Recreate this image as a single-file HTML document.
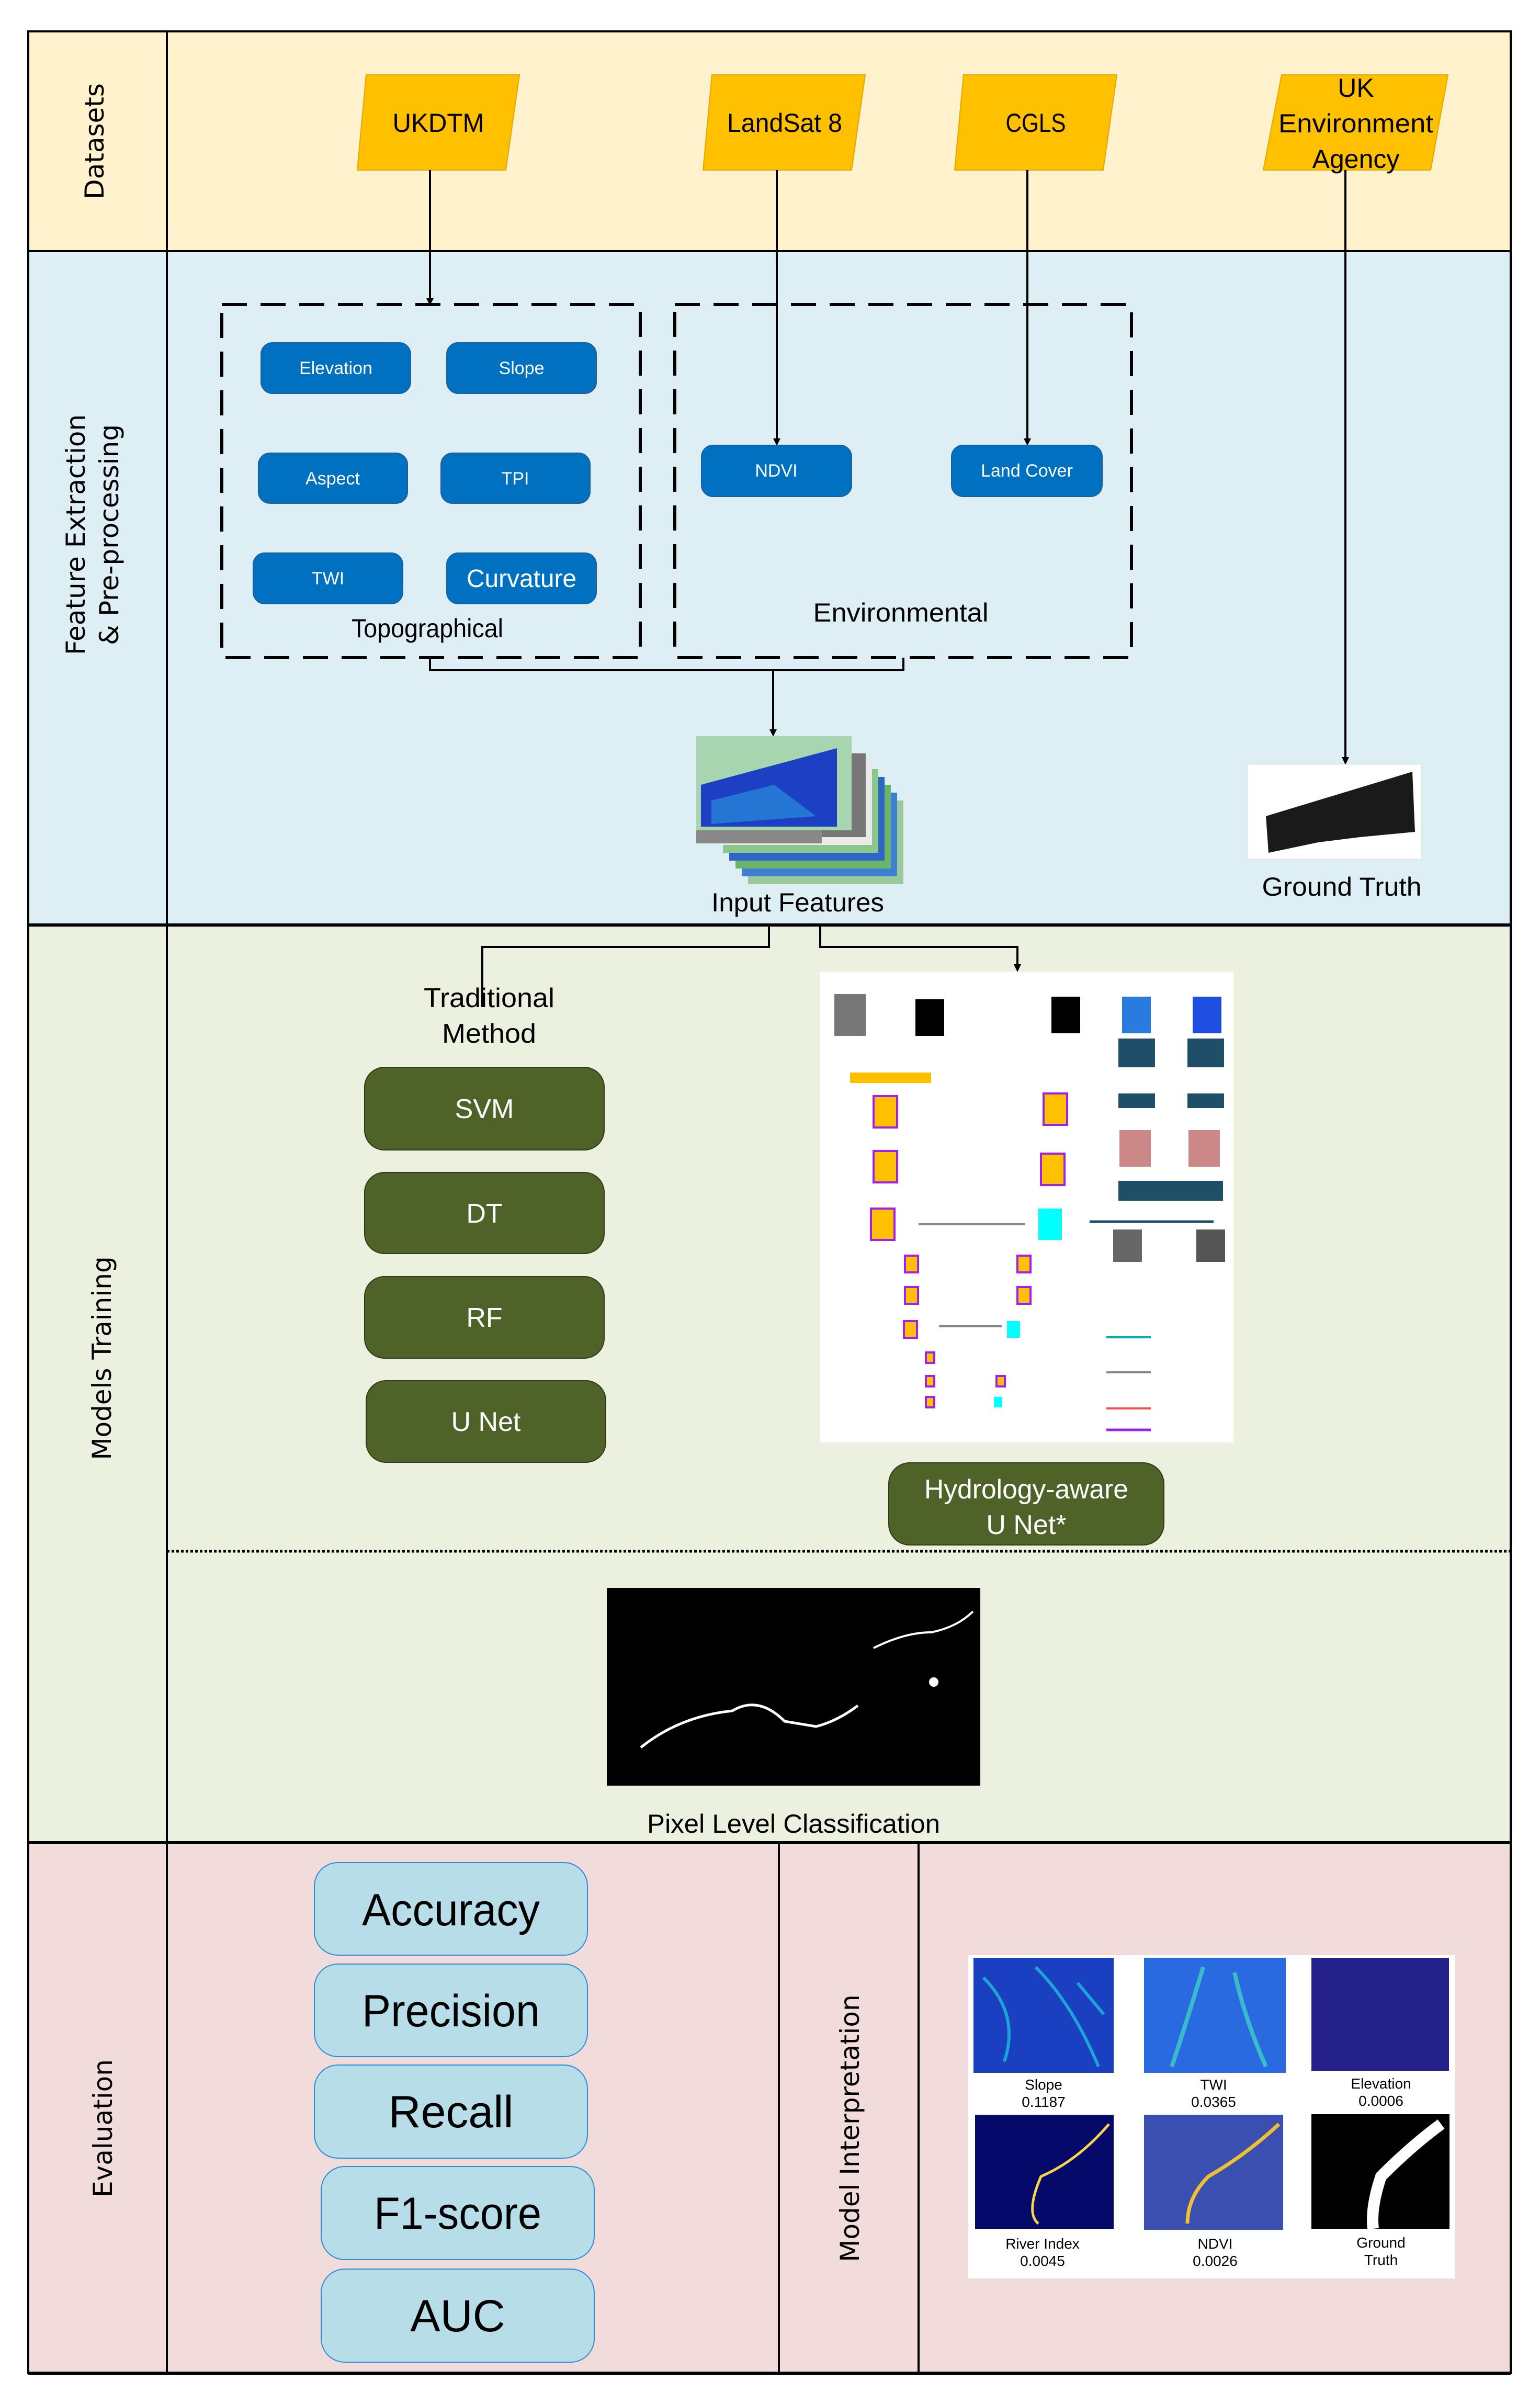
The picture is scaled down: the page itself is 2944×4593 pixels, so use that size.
<!DOCTYPE html>
<html><head><meta charset="utf-8"><style>
html,body{margin:0;padding:0;background:#fff;}
svg{display:block;}
text{font-family:"Liberation Sans Narrow","Liberation Sans",sans-serif;}
</style></head><body>
<svg width="2944" height="4593" viewBox="0 0 2944 4593" xmlns="http://www.w3.org/2000/svg">
<rect x="54" y="60" width="2834" height="420" fill="#FFF2CC"/>
<rect x="54" y="480" width="2834" height="1288" fill="#DDEEF4"/>
<rect x="54" y="1768" width="2834" height="1754" fill="#EBF1DE"/>
<rect x="54" y="3522" width="2834" height="1014" fill="#F2DCDB"/>
<g stroke="#000" stroke-width="4" fill="none">
<rect x="54" y="60" width="2834" height="4476"/>
<line x1="319" y1="60" x2="319" y2="4536"/>
<line x1="54" y1="480" x2="2888" y2="480"/>
<line x1="54" y1="1768" x2="2888" y2="1768" stroke-width="6"/>
<line x1="54" y1="3522" x2="2888" y2="3522" stroke-width="6"/>
<line x1="1489" y1="3522" x2="1489" y2="4536"/>
<line x1="1756" y1="3522" x2="1756" y2="4536"/>
<line x1="54" y1="4536" x2="2888" y2="4536" stroke-width="6"/>
</g>
<line x1="319" y1="2965" x2="2888" y2="2965" stroke="#000" stroke-width="5" stroke-dasharray="5,4"/>
<g font-size="50" fill="#000" text-anchor="middle" style="font-family:'DejaVu Sans','Liberation Sans',sans-serif">
<text transform="translate(198,270) rotate(-90)" style="font-family:'DejaVu Sans',sans-serif">Datasets</text>
<text transform="translate(162,1022) rotate(-90)" style="font-family:'DejaVu Sans',sans-serif">Feature Extraction</text>
<text transform="translate(226,1022) rotate(-90)" style="font-family:'DejaVu Sans',sans-serif">&amp; Pre-processing</text>
<text transform="translate(212,2596) rotate(-90)" style="font-family:'DejaVu Sans',sans-serif">Models Training</text>
<text transform="translate(214,4068) rotate(-90)" style="font-family:'DejaVu Sans',sans-serif">Evaluation</text>
<text transform="translate(1642,4068) rotate(-90)" style="font-family:'DejaVu Sans',sans-serif">Model Interpretation</text>
</g>
<g fill="#FFC000" stroke="#E6A800" stroke-width="2">
<polygon points="700,143 993,143 967,325 683,325"/>
<polygon points="1361,143 1654,143 1628,325 1344,325"/>
<polygon points="1842,143 2135,143 2109,325 1825,325"/>
<polygon points="2450,143 2768,143 2735,325 2415,325"/>
</g>
<g font-size="50" text-anchor="middle" fill="#000">
<text x="838" y="252" textLength="175" lengthAdjust="spacingAndGlyphs">UKDTM</text>
<text x="1500" y="252" textLength="220" lengthAdjust="spacingAndGlyphs">LandSat 8</text>
<text x="1980" y="252" textLength="115" lengthAdjust="spacingAndGlyphs">CGLS</text>
<text x="2592" y="185">UK</text>
<text x="2592" y="253" textLength="296" lengthAdjust="spacingAndGlyphs">Environment</text>
<text x="2592" y="321">Agency</text>
</g>
<g stroke="#000" stroke-width="4" fill="none">
<line x1="822" y1="325" x2="822" y2="572"/>
<line x1="1485" y1="325" x2="1485" y2="840"/>
<line x1="1964" y1="325" x2="1964" y2="840"/>
<line x1="2572" y1="325" x2="2572" y2="1450"/>
<polyline points="822,1257 822,1281 1727,1281 1727,1257"/>
<line x1="1478" y1="1281" x2="1478" y2="1397"/>
<polyline points="1470,1768 1470,1810 922,1810 922,1925"/>
<polyline points="1568,1768 1568,1810 1945,1810 1945,1846"/>
</g>
<g fill="#000">
<polygon points="815,570 829,570 822,584"/>
<polygon points="1478,838 1492,838 1485,852"/>
<polygon points="1957,838 1971,838 1964,852"/>
<polygon points="2565,1447 2579,1447 2572,1462"/>
<polygon points="1471,1394 1485,1394 1478,1408"/>
<polygon points="1938,1843 1952,1843 1945,1858"/>
</g>
<g stroke="#000" stroke-width="6" fill="none" stroke-dasharray="48,26">
<rect x="424" y="582" width="800" height="675"/>
<rect x="1290" y="582" width="873" height="675"/>
</g>
<g fill="#0070C0" stroke="#1F5F99" stroke-width="2">
<rect x="499" y="655" width="286" height="97" rx="22"/>
<rect x="854" y="655" width="286" height="97" rx="22"/>
<rect x="494" y="866" width="285" height="96" rx="22"/>
<rect x="843" y="866" width="285" height="96" rx="22"/>
<rect x="484" y="1057" width="286" height="97" rx="22"/>
<rect x="854" y="1057" width="286" height="97" rx="22"/>
<rect x="1341" y="851" width="287" height="98" rx="22"/>
<rect x="1819" y="851" width="288" height="98" rx="22"/>
</g>
<g fill="#fff" text-anchor="middle" font-size="34">
<text x="642" y="715">Elevation</text>
<text x="997" y="715">Slope</text>
<text x="636" y="926">Aspect</text>
<text x="985" y="926">TPI</text>
<text x="627" y="1117">TWI</text>
<text x="997" y="1122" font-size="48" textLength="210" lengthAdjust="spacingAndGlyphs">Curvature</text>
<text x="1484" y="911">NDVI</text>
<text x="1963" y="911">Land Cover</text>
</g>
<g font-size="50" text-anchor="middle" fill="#000">
<text x="817" y="1218" textLength="290" lengthAdjust="spacingAndGlyphs">Topographical</text>
<text x="1722" y="1188" textLength="335" lengthAdjust="spacingAndGlyphs">Environmental</text>
<text x="1525" y="1742" textLength="330" lengthAdjust="spacingAndGlyphs">Input Features</text>
<text x="2565" y="1712" textLength="305" lengthAdjust="spacingAndGlyphs">Ground Truth</text>
</g>
<g>
<rect x="1430" y="1530" width="297" height="160" fill="#9bc99b"/>
<rect x="1418" y="1515" width="297" height="160" fill="#3f7fd0"/>
<rect x="1406" y="1500" width="297" height="160" fill="#6ab56a"/>
<rect x="1394" y="1485" width="297" height="160" fill="#2e66c8"/>
<rect x="1382" y="1470" width="297" height="160" fill="#8bc78b"/>
<rect x="1370" y="1455" width="297" height="160" fill="#eaeaea"/>
<rect x="1358" y="1440" width="297" height="160" fill="#777"/>
<rect x="1331" y="1407" width="297" height="180" fill="#a6d5b0"/>
<polygon points="1340,1500 1600,1430 1600,1580 1340,1580" fill="#1c3fc4"/>
<polygon points="1360,1530 1480,1500 1560,1560 1360,1575" fill="#2b9be0" opacity="0.6"/>
<rect x="1331" y="1587" width="240" height="25" fill="#888"/>
</g>
<rect x="2385" y="1461" width="332" height="181" fill="#fff" stroke="#ddd"/>
<polygon points="2420,1560 2700,1475 2705,1590 2600,1600 2520,1610 2425,1630" fill="#1a1a1a"/>
<g font-size="52" text-anchor="middle" fill="#000">
<text x="935" y="1925" textLength="250" lengthAdjust="spacingAndGlyphs">Traditional</text>
<text x="935" y="1993" textLength="180" lengthAdjust="spacingAndGlyphs">Method</text>
</g>
<g fill="#4F6228" stroke="#2e3a17" stroke-width="2">
<rect x="697" y="2040" width="458" height="158" rx="38"/>
<rect x="697" y="2241" width="458" height="155" rx="38"/>
<rect x="697" y="2440" width="458" height="156" rx="38"/>
<rect x="700" y="2639" width="458" height="156" rx="38"/>
<rect x="1699" y="2796" width="526" height="157" rx="40"/>
</g>
<g fill="#fff" text-anchor="middle" font-size="52">
<text x="926" y="2137">SVM</text>
<text x="926" y="2337">DT</text>
<text x="926" y="2536">RF</text>
<text x="929" y="2735">U Net</text>
<text x="1962" y="2864" textLength="390" lengthAdjust="spacingAndGlyphs">Hydrology-aware</text>
<text x="1962" y="2932">U Net*</text>
</g>
<rect x="1568" y="1857" width="790" height="900" fill="#fff"/>
<g>
<rect x="1595" y="1900" width="60" height="80" fill="#777"/>
<rect x="1750" y="1910" width="55" height="70" fill="#000"/>
<rect x="2010" y="1905" width="55" height="70" fill="#000"/>
<rect x="2145" y="1905" width="55" height="70" fill="#2a7be0"/>
<rect x="2280" y="1905" width="55" height="70" fill="#1f4fe0"/>
<rect x="1625" y="2050" width="155" height="20" fill="#FFC000"/>
<rect x="2138" y="1985" width="70" height="55" fill="#1f4e68"/>
<rect x="2270" y="1985" width="70" height="55" fill="#1f4e68"/>
<rect x="2138" y="2090" width="70" height="28" fill="#1f4e68"/>
<rect x="2270" y="2090" width="70" height="28" fill="#1f4e68"/>
<rect x="2140" y="2160" width="60" height="70" fill="#c88"/>
<rect x="2272" y="2160" width="60" height="70" fill="#c88"/>
<rect x="2138" y="2257" width="200" height="38" fill="#1f4e68"/>
<rect x="2128" y="2350" width="55" height="62" fill="#666"/>
<rect x="2287" y="2350" width="55" height="62" fill="#555"/>
<g fill="#FFC000" stroke="#A020F0" stroke-width="4">
<rect x="1670" y="2095" width="45" height="60"/>
<rect x="1670" y="2200" width="45" height="60"/>
<rect x="1665" y="2310" width="45" height="60"/>
<rect x="1995" y="2090" width="45" height="60"/>
<rect x="1990" y="2205" width="45" height="60"/>
<rect x="1730" y="2400" width="25" height="32"/>
<rect x="1730" y="2460" width="25" height="32"/>
<rect x="1728" y="2525" width="25" height="32"/>
<rect x="1945" y="2400" width="25" height="32"/>
<rect x="1945" y="2460" width="25" height="32"/>
<rect x="1770" y="2585" width="16" height="20"/>
<rect x="1770" y="2630" width="16" height="20"/>
<rect x="1770" y="2670" width="16" height="20"/>
<rect x="1905" y="2630" width="16" height="20"/>
</g>
<rect x="1985" y="2310" width="45" height="60" fill="#00FFFF"/>
<rect x="1925" y="2525" width="25" height="32" fill="#00FFFF"/>
<rect x="1900" y="2670" width="16" height="20" fill="#00FFFF"/>
<line x1="1756" y1="2340" x2="1960" y2="2340" stroke="#888" stroke-width="4"/>
<line x1="1795" y1="2535" x2="1915" y2="2535" stroke="#888" stroke-width="4"/>
<line x1="2083" y1="2335" x2="2320" y2="2335" stroke="#1f4e68" stroke-width="5"/>
<line x1="2115" y1="2556" x2="2200" y2="2556" stroke="#00B0B0" stroke-width="4"/>
<line x1="2115" y1="2623" x2="2200" y2="2623" stroke="#888" stroke-width="4"/>
<line x1="2115" y1="2692" x2="2200" y2="2692" stroke="#FF5050" stroke-width="4"/>
<line x1="2115" y1="2733" x2="2200" y2="2733" stroke="#A020F0" stroke-width="5"/>
</g>
<rect x="1160" y="3035" width="714" height="378" fill="#000"/>
<path d="M1225,3340 Q1300,3280 1400,3270 Q1450,3240 1500,3290 L1560,3300 Q1600,3290 1640,3260" stroke="#fff" stroke-width="5" fill="none"/>
<path d="M1670,3150 Q1730,3120 1780,3120 Q1830,3110 1860,3080" stroke="#fff" stroke-width="4" fill="none"/>
<circle cx="1785" cy="3215" r="9" fill="#fff"/>
<text x="1517" y="3503" font-size="50" text-anchor="middle" fill="#000" textLength="560" lengthAdjust="spacingAndGlyphs">Pixel Level Classification</text>
<g fill="#B7DEE8" stroke="#2E8BD6" stroke-width="2">
<rect x="601" y="3560" width="522" height="177" rx="45"/>
<rect x="601" y="3754" width="522" height="177" rx="45"/>
<rect x="601" y="3947" width="522" height="178" rx="45"/>
<rect x="614" y="4141" width="522" height="178" rx="45"/>
<rect x="614" y="4337" width="522" height="178" rx="45"/>
</g>
<g font-size="86" text-anchor="middle" fill="#000">
<text x="862" y="3680" textLength="340" lengthAdjust="spacingAndGlyphs">Accuracy</text>
<text x="862" y="3873" textLength="340" lengthAdjust="spacingAndGlyphs">Precision</text>
<text x="862" y="4066">Recall</text>
<text x="875" y="4260" textLength="320" lengthAdjust="spacingAndGlyphs">F1-score</text>
<text x="875" y="4456">AUC</text>
</g>
<rect x="1851" y="3737" width="930" height="618" fill="#fff"/>
<rect x="1861" y="3742" width="268" height="220" fill="#1a3fc0"/>
<path d="M1880,3780 Q1950,3850 1920,3940 M1980,3760 Q2050,3830 2100,3950 M2060,3790 L2110,3850" stroke="#1fd0e0" stroke-width="6" fill="none" opacity="0.7"/>
<rect x="2187" y="3742" width="271" height="220" fill="#2a6ae0"/>
<path d="M2300,3760 Q2270,3860 2240,3950 M2360,3770 Q2380,3860 2420,3950" stroke="#40e0c0" stroke-width="8" fill="none" opacity="0.7"/>
<rect x="2507" y="3742" width="263" height="216" fill="#24228a"/>
<rect x="1864" y="4042" width="265" height="218" fill="#050a6a"/>
<rect x="2187" y="4042" width="266" height="220" fill="#3a4fb0"/>
<rect x="2507" y="4041" width="264" height="219" fill="#000"/>
<path d="M2120,4060 Q2060,4130 1990,4160 Q1960,4230 1985,4250" stroke="#f7d44a" stroke-width="5" fill="none"/>
<path d="M2445,4060 Q2380,4120 2310,4160 Q2270,4200 2270,4250" stroke="#f0c030" stroke-width="7" fill="none"/>
<path d="M2755,4060 Q2700,4100 2640,4160 Q2620,4220 2625,4260" stroke="#fff" stroke-width="22" fill="none"/>
<g font-size="28" text-anchor="middle" fill="#000">
<text x="1995" y="3994">Slope</text><text x="1995" y="4027">0.1187</text>
<text x="2320" y="3994">TWI</text><text x="2320" y="4027">0.0365</text>
<text x="2640" y="3992">Elevation</text><text x="2640" y="4025">0.0006</text>
<text x="1993" y="4298">River Index</text><text x="1993" y="4331">0.0045</text>
<text x="2323" y="4298">NDVI</text><text x="2323" y="4331">0.0026</text>
<text x="2640" y="4296">Ground</text><text x="2640" y="4329">Truth</text>
</g>
</svg>
</body></html>
